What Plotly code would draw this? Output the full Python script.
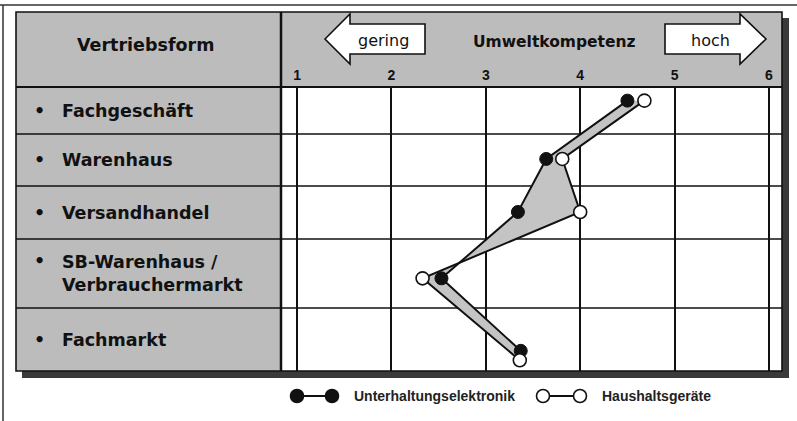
import plotly.graph_objects as go

# ---------------- data ----------------
categories = ["Fachgeschäft", "Warenhaus", "Versandhandel",
              "SB-Warenhaus / Verbrauchermarkt", "Fachmarkt"]
series_names = ["Unterhaltungselektronik", "Haushaltsgeräte"]
unterhaltung = [4.50, 3.64, 3.34, 2.53, 3.37]
haushalt = [4.68, 3.81, 4.00, 2.33, 3.36]
tick_values = [1, 2, 3, 4, 5, 6]
tick_labels = ["1", "2", "3", "4", "5", "6"]
axis_title = "Umweltkompetenz"
low_label = "gering"
high_label = "hoch"
row_header = "Vertriebsform"

# ---------------- layout geometry ----------------
W, H = 797, 421
PL, PR, PT, PB = 281, 782, 87, 371          # plot area in pixels
row_heights = [47, 52, 53, 69, 63]           # pixel height of each row
pos_u = [0.29, 0.48, 0.49, 0.57, 0.68]       # marker position within row
pos_h = [0.29, 0.48, 0.49, 0.57, 0.83]

edges = [0]
for h in row_heights:
    edges.append(edges[-1] + h)
y_u = [edges[i] + f * row_heights[i] for i, f in enumerate(pos_u)]
y_h = [edges[i] + f * row_heights[i] for i, f in enumerate(pos_h)]
centers = [edges[i] + row_heights[i] / 2 for i in range(len(row_heights))]


def px(x):
    return (x - PL) / (PR - PL)


def py(y):
    return (PB - y) / (PB - PT)


INK = "#111111"
GRAY = "#bcbcbc"
BOLD = dict(family="DejaVu Sans", size=17.5, color=INK, weight="bold")

fig = go.Figure()

# shaded area between the two profiles
fig.add_trace(go.Scatter(
    x=unterhaltung + haushalt[::-1], y=y_u + y_h[::-1],
    mode="lines", fill="toself", fillcolor="#c4c4c4",
    line=dict(width=0), hoverinfo="skip", showlegend=False))

fig.add_trace(go.Scatter(
    x=unterhaltung, y=y_u, name=series_names[0], mode="lines+markers",
    line=dict(color=INK, width=2),
    marker=dict(size=13, color=INK, line=dict(color=INK, width=1)),
    showlegend=False))
fig.add_trace(go.Scatter(
    x=haushalt, y=y_h, name=series_names[1], mode="lines+markers",
    line=dict(color=INK, width=2),
    marker=dict(size=13, color="white", line=dict(color=INK, width=1.6)),
    showlegend=False))

shapes = []
# shadow
shapes.append(dict(type="rect", xref="paper", yref="paper",
                   x0=px(22), x1=px(789), y0=py(18), y1=py(378),
                   fillcolor="#3a3a3a", line=dict(width=0), layer="below"))
# header band, label column, white chart field
shapes.append(dict(type="rect", xref="paper", yref="paper",
                   x0=px(16), x1=px(782), y0=py(12), y1=py(87),
                   fillcolor=GRAY, line=dict(width=0), layer="below"))
shapes.append(dict(type="rect", xref="paper", yref="paper",
                   x0=px(16), x1=px(281), y0=py(87), y1=py(371),
                   fillcolor=GRAY, line=dict(width=0), layer="below"))
shapes.append(dict(type="rect", xref="paper", yref="paper",
                   x0=0, x1=1, y0=0, y1=1,
                   fillcolor="white", line=dict(width=0), layer="below"))
# row separators
for e in edges[1:-1]:
    shapes.append(dict(type="line", xref="paper", yref="y",
                       x0=px(16), x1=px(782), y0=e, y1=e,
                       line=dict(color=INK, width=1.6), layer="below"))
# panel outline, header line, column separator
shapes.append(dict(type="rect", xref="paper", yref="paper",
                   x0=px(16), x1=px(782), y0=py(12), y1=py(371),
                   line=dict(color=INK, width=1.6), layer="above"))
shapes.append(dict(type="line", xref="paper", yref="paper",
                   x0=px(16), x1=px(782), y0=py(87), y1=py(87),
                   line=dict(color=INK, width=2), layer="above"))
shapes.append(dict(type="line", xref="paper", yref="paper",
                   x0=px(281), x1=px(281), y0=py(12), y1=py(371),
                   line=dict(color=INK, width=2.5), layer="above"))
# outer frame
shapes.append(dict(type="line", xref="paper", yref="paper",
                   x0=px(0), x1=px(797), y0=py(5), y1=py(5),
                   line=dict(color="#333333", width=1.5), layer="above"))
shapes.append(dict(type="line", xref="paper", yref="paper",
                   x0=px(3), x1=px(3), y0=py(5), y1=py(421),
                   line=dict(color="#333333", width=1.5), layer="above"))


def path(points):
    s = "M " + " L ".join(f"{px(a):.5f},{py(b):.5f}" for a, b in points)
    return s + " Z"


# arrows
shapes.append(dict(type="path", xref="paper", yref="paper",
                   path=path([(325, 39), (350, 14), (350, 24), (425, 24),
                              (425, 54), (350, 54), (350, 64)]),
                   fillcolor="white", line=dict(color=INK, width=1.6),
                   layer="above"))
shapes.append(dict(type="path", xref="paper", yref="paper",
                   path=path([(665, 24), (740, 24), (740, 14), (766, 39),
                              (740, 64), (740, 54), (665, 54)]),
                   fillcolor="white", line=dict(color=INK, width=1.6),
                   layer="above"))

# custom legend
R = 6.5
legend_y = 396
legend_items = [(297, 332, 352, INK), (543, 580, 600, "white")]
annotations = []
for (a, b, tx, fc), name in zip(legend_items, series_names):
    shapes.append(dict(type="line", xref="paper", yref="paper",
                       x0=px(a), x1=px(b), y0=py(legend_y), y1=py(legend_y),
                       line=dict(color=INK, width=2), layer="above"))
    for c in (a, b):
        shapes.append(dict(type="circle", xref="paper", yref="paper",
                           x0=px(c - R), x1=px(c + R),
                           y0=py(legend_y + R), y1=py(legend_y - R),
                           fillcolor=fc, line=dict(color=INK, width=1.6),
                           layer="above"))
    annotations.append(dict(xref="paper", yref="paper", x=px(tx), y=py(legend_y),
                            text=name, showarrow=False, xanchor="left",
                            yanchor="middle",
                            font=dict(family="Liberation Sans", size=14,
                                      color="#222222", weight="bold")))


def centered(x, y, text, font):
    return dict(xref="paper", yref="paper", x=px(x), y=py(y), text=text,
                showarrow=False, xanchor="center", yanchor="middle", font=font)


# header texts
annotations.append(centered(145, 45, row_header, BOLD))
annotations.append(centered(554, 42, axis_title,
                            dict(family="DejaVu Sans", size=15.5, color=INK,
                                 weight="bold")))
annotations.append(centered(383, 40, low_label,
                            dict(family="DejaVu Sans", size=16, color=INK)))
annotations.append(centered(710, 40, high_label,
                            dict(family="DejaVu Sans", size=16, color=INK)))

# category labels with bullets
for i, cat in enumerate(categories):
    label = cat.replace(" / ", " /<br>")
    two = "<br>" in label
    annotations.append(dict(xref="paper", yref="y", x=px(60), y=centers[i],
                            text=label, showarrow=False, xanchor="left",
                            yanchor="middle", align="left", font=BOLD))
    by = centers[i] - 12.5 if two else centers[i]
    annotations.append(dict(xref="paper", yref="y", x=px(39), y=by,
                            text="•", showarrow=False, xanchor="center",
                            yanchor="middle", font=BOLD))

fig.update_layout(
    width=W, height=H,
    margin=dict(l=PL, r=W - PR, t=PT, b=H - PB),
    paper_bgcolor="white", plot_bgcolor="white",
    shapes=shapes, annotations=annotations,
    xaxis=dict(range=[0.83, 6.138], side="top", tickvals=tick_values,
               ticktext=tick_labels, showgrid=True, gridcolor=INK,
               gridwidth=1.6, zeroline=False, showline=False, ticks="",
               ticklabelstandoff=3, fixedrange=True,
               tickfont=dict(family="Liberation Sans", size=14, color=INK,
                             weight="bold")),
    yaxis=dict(range=[edges[-1], 0], showgrid=False, zeroline=False,
               showticklabels=False, showline=False, ticks="",
               fixedrange=True),
    showlegend=False,
    hovermode=False,
)

fig.write_html(
    "out.html",
    config={"displayModeBar": False},
    post_script="document.body.style.margin='0';"
                "document.body.style.overflow='hidden';")
